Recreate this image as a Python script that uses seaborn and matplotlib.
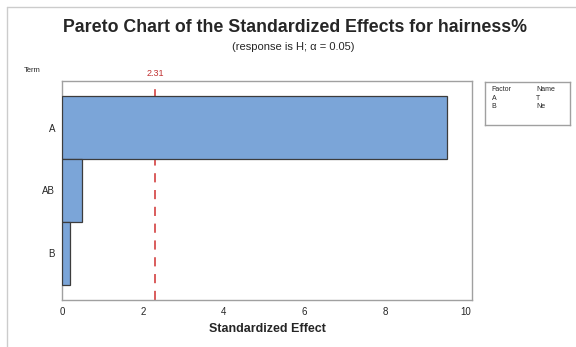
import matplotlib
matplotlib.use("Agg")
import matplotlib.pyplot as plt
import seaborn as sns
import pandas as pd

# --- DATA ---
terms = ["A", "AB", "B"]
effects = [9.53, 0.49, 0.20]
critical_value = 2.31
factors = ["A", "B"]
factor_names = ["T", "Ne"]

df = pd.DataFrame({"Term": terms, "Effect": effects})

sns.set_style("white")
plt.rcParams["font.family"] = ["Liberation Sans", "DejaVu Sans"]

fig = plt.figure(figsize=(5.76, 3.47), dpi=100)
ax = fig.add_axes([62 / 576, 1 - 300 / 347, (472 - 62) / 576, (300 - 81) / 347])

sns.barplot(data=df, x="Effect", y="Term", orient="h", color="#7BA5D8",
            saturation=1, width=1.0, edgecolor="#3c3c3c", linewidth=0.9,
            ax=ax, zorder=3)

# reference line for the critical value
ax.axvline(critical_value, color="#d03030", linestyle=(0, (6, 5)), linewidth=1.1, zorder=2)
ax.text(critical_value, 1.015, f"{critical_value:.2f}", transform=ax.get_xaxis_transform(),
        ha="center", va="bottom", color="#c03030", fontsize=6.5)

ax.set_xlim(0, 10.15)
ax.set_ylim(2.74, -0.74)
ax.set_xticks([0, 2, 4, 6, 8, 10])
ax.tick_params(axis="both", labelsize=7, length=3, color="#888888", width=0.6, pad=2)
ax.tick_params(axis="x", direction="out")
ax.set_xlabel("Standardized Effect", fontsize=9, fontweight="bold", labelpad=4)
ax.set_ylabel("")
for s in ax.spines.values():
    s.set_color("#a0a0a0")
    s.set_linewidth(1.0)

# titles
fig.text(295 / 576, 1 - 27 / 347, "Pareto Chart of the Standardized Effects for hairness%",
         ha="center", va="center", fontsize=12.8, fontweight="bold")
fig.text(293 / 576, 1 - 47 / 347, "(response is H; \u03b1 = 0.05)",
         ha="center", va="center", fontsize=8)
fig.text(24 / 576, 1 - 70 / 347, "Term", ha="left", va="center", fontsize=5.5)

# factor legend box
lax = fig.add_axes([485 / 576, 1 - 125 / 347, (570 - 485) / 576, (125 - 82) / 347])
lax.set_xticks([])
lax.set_yticks([])
for s in lax.spines.values():
    s.set_color("#a0a0a0")
    s.set_linewidth(1.0)
lax.text(0.08, 0.82, "Factor", fontsize=5, va="center", transform=lax.transAxes)
lax.text(0.60, 0.82, "Name", fontsize=5, va="center", transform=lax.transAxes)
for i, (f, n) in enumerate(zip(factors, factor_names)):
    y = 0.62 - 0.2 * i
    lax.text(0.08, y, f, fontsize=5, va="center", transform=lax.transAxes)
    lax.text(0.60, y, n, fontsize=5, va="center", transform=lax.transAxes)

# outer frame lines (left and top)
fig.add_artist(plt.Line2D([7 / 576, 7 / 576], [0, 1 - 7 / 347], color="#cccccc", lw=1.0))
fig.add_artist(plt.Line2D([7 / 576, 1], [1 - 7 / 347, 1 - 7 / 347], color="#cccccc", lw=1.0))

fig.savefig("out.png", dpi=100)
